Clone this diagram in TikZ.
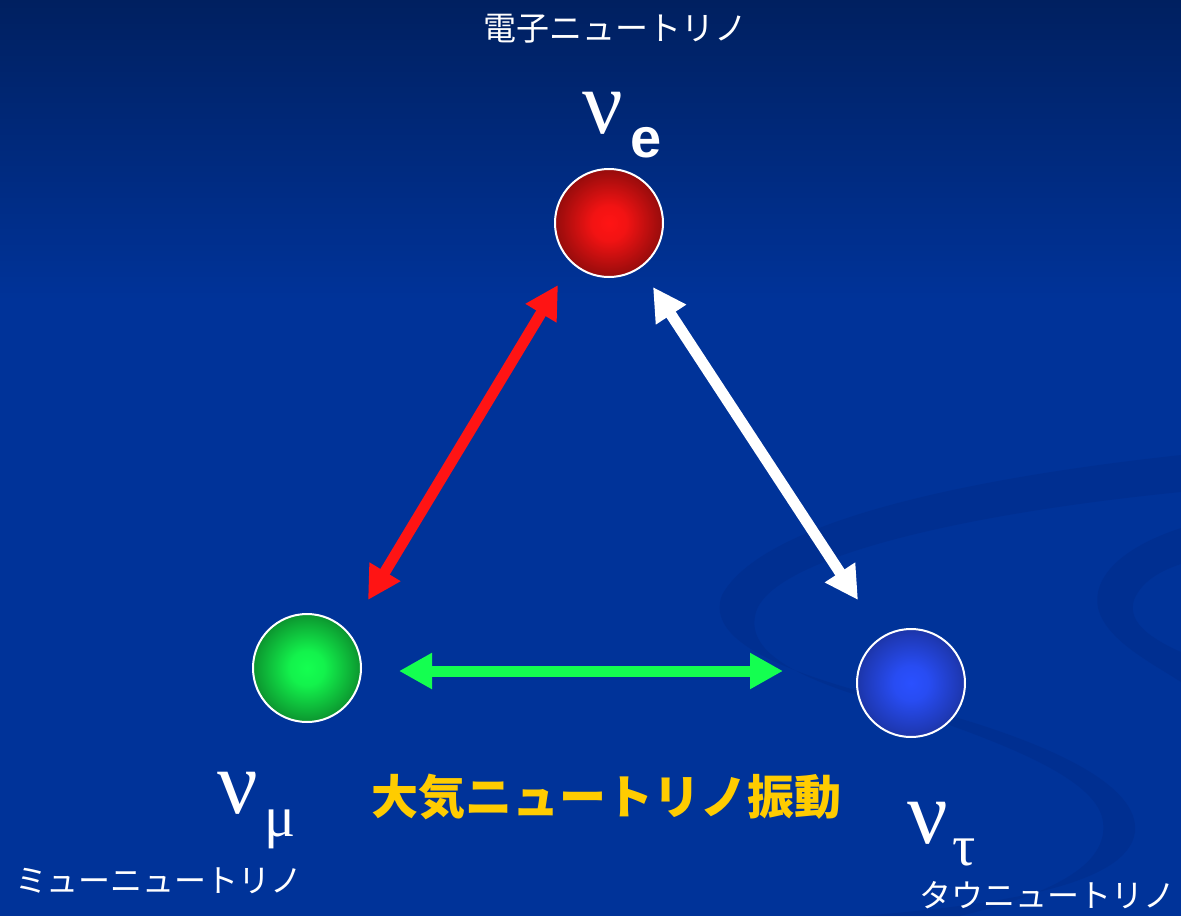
\documentclass[tikz,border=0pt]{standalone}
\usepackage{fontspec}
\usetikzlibrary{arrows.meta}
\newfontfamily\jp{Noto Sans CJK JP}
\newfontfamily\grk{Liberation Serif}
\newfontfamily\lsans{Liberation Sans}
\definecolor{bgtop}{RGB}{0,32,96}
\definecolor{bgmid}{RGB}{0,51,153}
\definecolor{swirl}{RGB}{0,40,128}
\definecolor{ylw}{RGB}{255,204,0}
\definecolor{arrred}{RGB}{255,20,20}
\definecolor{arrgreen}{RGB}{20,255,80}
\definecolor{bluec}{RGB}{42,80,255}
\pgfdeclareradialshading{redball}{\pgfpoint{0bp}{0bp}}{color(0bp)=(arrred); color(8bp)=(arrred!95!black); color(22bp)=(arrred!65!black); color(32bp)=(arrred!45!black); color(50bp)=(arrred!40!black)}
\pgfdeclareradialshading{greenball}{\pgfpoint{0bp}{0bp}}{color(0bp)=(arrgreen); color(8bp)=(arrgreen!95!black); color(22bp)=(arrgreen!65!black); color(32bp)=(arrgreen!42!black); color(50bp)=(arrgreen!38!black)}
\pgfdeclareradialshading{blueball}{\pgfpoint{0bp}{0bp}}{color(0bp)=(bluec); color(8bp)=(bluec!95!black); color(22bp)=(bluec!72!black); color(32bp)=(bluec!52!black); color(50bp)=(bluec!48!black)}
\tikzset{
  ball/.style={circle, minimum size=108pt, inner sep=0pt, draw=white, line width=2pt},
  dblarrow/.style={line width=11pt, {Triangle[length=33pt,width=34pt]}-{Triangle[length=33pt,width=34pt]}},
  jplabel/.style={text=white, inner sep=0pt, font=\jp\fontsize{32}{36}\selectfont},
  nulabel/.style={text=white, inner sep=0pt, font=\grk\fontsize{90}{92}\selectfont},
  sublabel/.style={text=white, inner sep=0pt, font=\grk\fontsize{58}{62}\selectfont},
}
\begin{document}
\begin{tikzpicture}[x=1pt,y=-1pt]
\useasboundingbox (0,0) rectangle (1181,916);
% background
\fill[bgmid] (0,0) rectangle (1181,916);
\shade[top color=bgtop, bottom color=bgmid] (0,0) rectangle (1181,300);
% swirls
\fill[swirl, opacity=0.3]
  (1181,455) .. controls (950,480) and (760,525) .. (722,595)
  .. controls (705,640) and (780,672) .. (900,702)
  .. controls (1050,740) and (1140,785) .. (1135,832)
  .. controls (1128,885) and (1000,905) .. (860,916)
  -- (960,916) .. controls (1060,892) and (1108,862) .. (1103,822)
  .. controls (1098,782) and (1020,748) .. (900,708)
  .. controls (790,678) and (745,650) .. (756,612)
  .. controls (772,560) and (950,515) .. (1181,492) -- cycle;
\fill[swirl, opacity=0.3]
  (1181,528) .. controls (1120,548) and (1092,578) .. (1098,608)
  .. controls (1106,640) and (1150,662) .. (1181,682)
  -- (1181,652) .. controls (1145,636) and (1128,620) .. (1134,600)
  .. controls (1142,580) and (1163,570) .. (1181,564) -- cycle;
% spheres
\node[ball, shading=redball] (ve) at (609,223) {};
\node[ball, shading=greenball] (vm) at (307,668) {};
\node[ball, shading=blueball] (vt) at (911,683) {};
% arrow end points
\coordinate (redA) at (368,600);
\coordinate (redB) at (558,285);
\coordinate (whA) at (653,287);
\coordinate (whB) at (858,600);
\coordinate (grA) at (399,671);
\coordinate (grB) at (783,671);
\draw[dblarrow, arrred] (redA) -- (redB);
\draw[dblarrow, white] (whA) -- (whB);
\draw[dblarrow, arrgreen] (grA) -- (grB);
% labels
\node[jplabel, font=\jp\fontsize{33}{36}\selectfont] (te) at (615,29) {電子ニュートリノ};
\node[nulabel] (nue) at (603,113) {ν};
\node[text=white, inner sep=0pt, font=\lsans\bfseries\fontsize{56}{60}\selectfont] (sube) at (646,143) {e};
\node[nulabel] (num) at (238,793) {ν};
\node[sublabel] (subm) at (280,829) {μ};
\node[jplabel] (tm) at (159,881) {ミューニュートリノ};
\node[nulabel] (nut) at (928,823) {ν};
\node[sublabel] (subt) at (964,852) {τ};
\node[jplabel] (tt) at (1047,895) {タウニュートリノ};
\node[text=ylw, inner sep=0pt, font=\jp\bfseries\fontsize{47}{50}\selectfont] (osc) at (606,797) {大気ニュートリノ振動};
\end{tikzpicture}
\end{document}
